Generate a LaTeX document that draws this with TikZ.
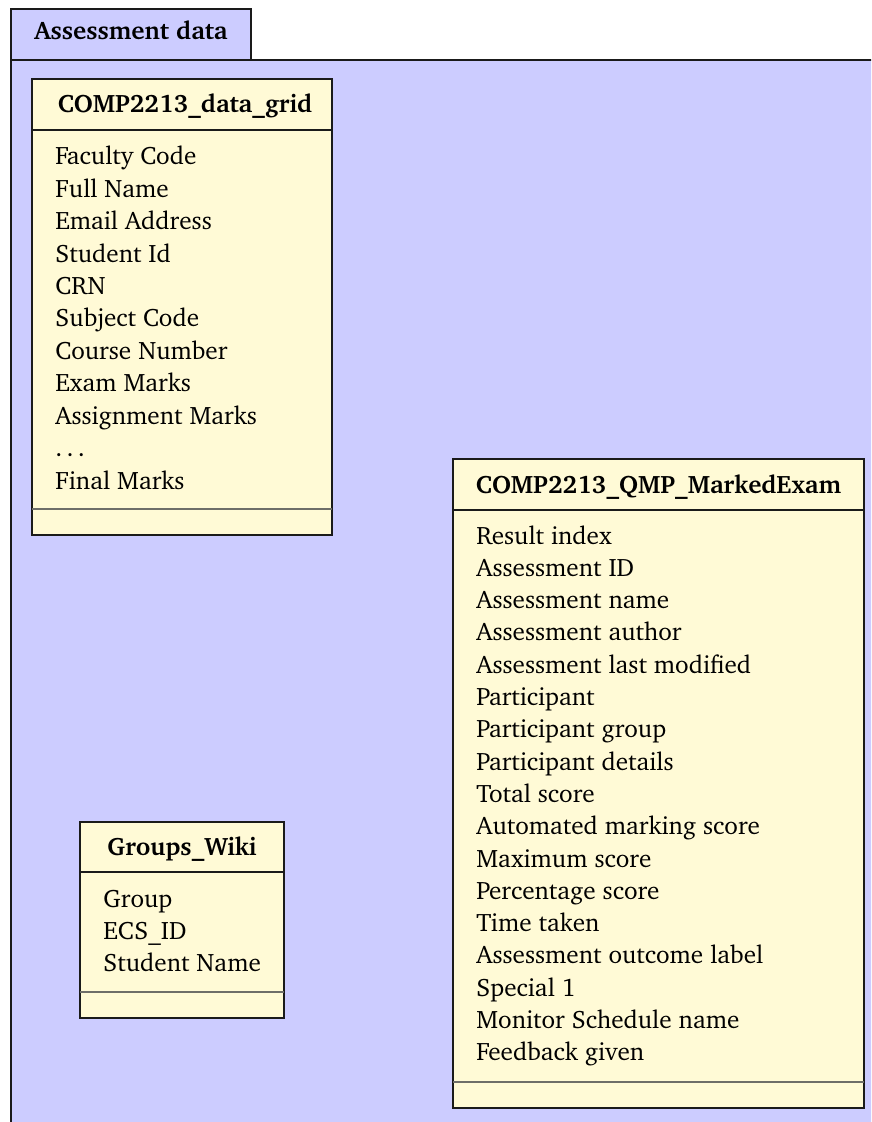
\documentclass[tikz,border=0pt]{standalone}
\usepackage[T1]{fontenc}
\usepackage{charter}
\definecolor{pkgfill}{HTML}{CCCCFF}
\definecolor{clsfill}{HTML}{FFFAD6}
\definecolor{edge}{HTML}{1A1A1A}
\definecolor{rule}{HTML}{6E6E68}
\tikzset{
  pkgbox/.style={draw=edge, fill=pkgfill, line width=0.6pt},
  clsbox/.style={draw=edge, fill=clsfill, line width=0.6pt},
  divider/.style={draw=rule, line width=0.8pt},
  clsname/.style={font=\fontsize{12.6}{15}\selectfont\bfseries, inner sep=0pt, anchor=base},
  attr/.style={font=\fontsize{12.6}{15}\selectfont, inner sep=0pt, anchor=base west},
  pkgname/.style={font=\fontsize{12.6}{15}\selectfont\bfseries, inner sep=0pt, anchor=base},
}
\begin{document}
\begin{tikzpicture}[x=0.5pt,y=-0.5pt]
\useasboundingbox (0,0) rectangle (871,1122);
\begin{scope}
  \clip (0,0) rectangle (871,1122);
  % package tab and body
  \path[pkgbox] (11,9) rectangle (251,60);
  \path[pkgbox] (11,60) rectangle (890,1140);
\end{scope}
\node[pkgname] (pkg) at (131,40) {Assessment data};

% class: COMP2213_data_grid
\path[clsbox] (32,79) rectangle (332,535);
\draw[edge, line width=0.6pt] (32,130) -- (332,130);
\draw[divider] (32,509) -- (332,509);
\node[clsname] (grid) at (185,113) {COMP2213\_data\_grid};
\foreach \t [count=\i from 0] in {Faculty Code, Full Name, Email Address, Student Id, CRN,
  Subject Code, Course Number, Exam Marks, Assignment Marks, \dots, Final Marks}
  \node[attr] (grid-\i) at (55,{165+32.4*\i}) {\t};

% class: COMP2213_QMP_MarkedExam
\path[clsbox] (453,459) rectangle (864,1108);
\draw[edge, line width=0.6pt] (453,510) -- (864,510);
\draw[divider] (453,1082) -- (864,1082);
\node[clsname] (exam) at (658.5,493) {COMP2213\_QMP\_MarkedExam};
\foreach \t [count=\i from 0] in {Result index, Assessment ID, Assessment name,
  Assessment author, Assessment last modified, Participant, Participant group,
  Participant details, Total score, Automated marking score, Maximum score,
  Percentage score, Time taken, Assessment outcome label, Special 1,
  Monitor Schedule name, Feedback given}
  \node[attr] (exam-\i) at (476,{544+32.3*\i}) {\t};

% class: Groups_Wiki
\path[clsbox] (80,822) rectangle (284,1018);
\draw[edge, line width=0.6pt] (80,872) -- (284,872);
\draw[divider] (80,992) -- (284,992);
\node[clsname] (wiki) at (182,855) {Groups\_Wiki};
\foreach \t [count=\i from 0] in {Group, ECS\_ID, Student Name}
  \node[attr] (wiki-\i) at (103,{907+32.4*\i}) {\t};
\end{tikzpicture}
\end{document}
